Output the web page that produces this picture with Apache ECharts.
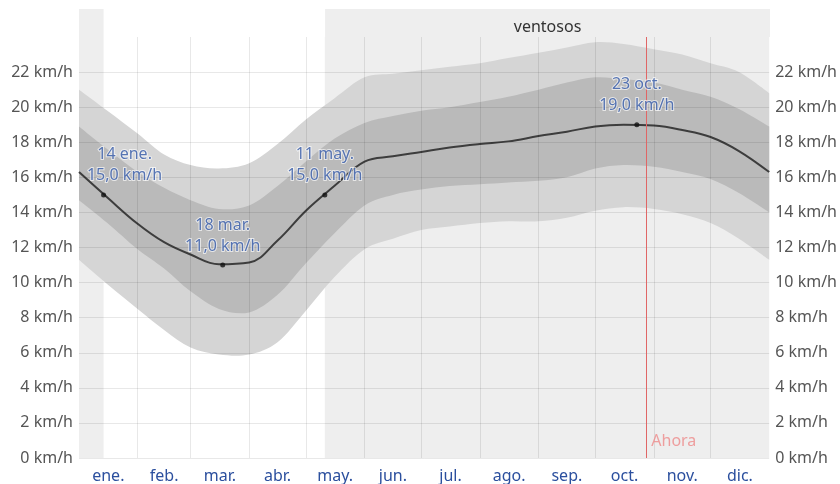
<!DOCTYPE html>
<html>
<head>
<meta charset="utf-8">
<script src="https://cdn.jsdelivr.net/npm/echarts@6/dist/echarts.min.js"></script>
<style>
  html, body { margin: 0; padding: 0; background: #fff; }
  #chart { width: 840px; height: 484px; }
</style>
</head>
<body>
<div id="chart"></div>
<script>
// meses y límites (día del año)
const monthNames = ['ene.', 'feb.', 'mar.', 'abr.', 'may.', 'jun.', 'jul.', 'ago.', 'sep.', 'oct.', 'nov.', 'dic.']
const monthStarts = [0, 31, 59, 90, 120, 151, 181, 212, 243, 273, 304, 334, 365]
const yTicks = [0, 2, 4, 6, 8, 10, 12, 14, 16, 18, 20, 22]

// velocidad del viento (km/h)
const days = [0, 15, 31, 45, 59, 74, 90, 105, 120, 135, 151, 166, 181, 196, 212, 227, 243, 258, 273, 288, 304, 319, 334, 349, 365]
const avgSpeed = [16.3, 14.85, 13.35, 12.3, 11.6, 11.05, 11.15, 12.4, 14.1, 15.5, 16.9, 17.2, 17.45, 17.7, 17.9, 18.05, 18.35, 18.6, 18.9, 19.0, 18.95, 18.7, 18.3, 17.5, 16.3]
const p90 = [21.0, 19.8, 18.5, 17.3, 16.7, 16.5, 16.8, 17.9, 19.3, 20.5, 21.7, 21.9, 22.1, 22.3, 22.5, 22.8, 23.1, 23.4, 23.7, 23.6, 23.3, 23.0, 22.5, 22.0, 20.8]
const p75 = [18.9, 17.6, 16.3, 15.4, 14.7, 14.2, 14.4, 15.5, 16.9, 18.2, 19.1, 19.5, 19.8, 20.0, 20.3, 20.6, 21.0, 21.4, 21.7, 21.6, 21.4, 21.0, 20.6, 19.9, 18.9]
const p25 = [14.7, 13.4, 11.9, 10.8, 9.5, 8.5, 8.3, 9.3, 11.1, 12.8, 14.4, 15.0, 15.3, 15.5, 15.6, 15.7, 15.8, 16.0, 16.5, 16.7, 16.6, 16.3, 15.9, 15.1, 14.0]
const p10 = [11.3, 9.9, 8.5, 7.3, 6.3, 5.9, 5.9, 6.6, 8.4, 10.3, 11.9, 12.5, 13.0, 13.2, 13.4, 13.5, 13.5, 13.7, 14.1, 14.3, 14.2, 13.9, 13.4, 12.5, 11.3]

// puntos destacados
const keyDays = [13, 76, 130, 295]
const keyValues = [15.0, 11.0, 15.0, 19.0]
const keyLabels = ['14 ene.', '18 mar.', '11 may.', '23 oct.']

// temporada ventosa y hoy
const windySpans = [[0, 13], [130, 365]]
const windyLabel = 'ventosos'
const nowDay = 300

const monthMids = monthNames.map((m, i) => (monthStarts[i] + monthStarts[i + 1]) / 2)
const fmt = v => v.toFixed(1).replace('.', ',')
const pairs = arr => days.map((d, i) => [d, arr[i]])

const gridColor = 'rgba(0, 0, 0, 0.09)'
const font = 'Noto Sans'

// curva suave (catmull-rom) a través de los puntos ya convertidos a píxeles
const curveTo = pts => {
  let d = ''
  for (let i = 0; i < pts.length - 1; i++) {
    const p0 = pts[Math.max(i - 1, 0)]
    const p1 = pts[i]
    const p2 = pts[i + 1]
    const p3 = pts[Math.min(i + 2, pts.length - 1)]
    const c1 = [p1[0] + (p2[0] - p0[0]) / 6, p1[1] + (p2[1] - p0[1]) / 6]
    const c2 = [p2[0] - (p3[0] - p1[0]) / 6, p2[1] - (p3[1] - p1[1]) / 6]
    d += ' C' + c1.join(' ') + ' ' + c2.join(' ') + ' ' + p2.join(' ')
  }
  return d
}

const bandSeries = (lo, hi, color, z) => ({
  type: 'custom',
  z: z,
  silent: true,
  clip: true,
  data: days.map((d, i) => [d, lo[i], hi[i]]),
  encode: { x: 0, y: [1, 2] },
  renderItem: (params, api) => {
    if (params.dataIndex !== 0) return
    const top = days.map((d, i) => api.coord([d, hi[i]]))
    const bottom = days.map((d, i) => api.coord([d, lo[i]])).reverse()
    const path = 'M' + top[0].join(' ') + curveTo(top) +
      ' L' + bottom[0].join(' ') + curveTo(bottom) + ' Z'
    return {
      type: 'path',
      shape: { pathData: path },
      style: { fill: color }
    }
  }
})

const chart = echarts.init(document.getElementById('chart'))

const yAxisBase = {
  type: 'value',
  gridIndex: 0,
  min: 0,
  max: 24,
  interval: 2,
  axisLine: { show: false },
  axisTick: { show: false },
  splitLine: { show: false },
  axisLabel: {
    formatter: v => (v > 22 ? '' : v + ' km/h'),
    color: '#555',
    fontSize: 16,
    fontFamily: font,
    margin: 6
  }
}

const option = {
  animation: false,
  textStyle: { fontFamily: font },
  grid: [
    { left: 79, right: 70, top: 37, bottom: 26 },
    { left: 79, right: 70, top: 9, height: 28 }
  ],
  xAxis: [
    {
      type: 'value',
      gridIndex: 0,
      min: 0,
      max: 365,
      axisLine: { show: false },
      axisTick: { show: false },
      splitLine: { show: false },
      axisLabel: {
        customValues: monthMids,
        formatter: v => {
          const i = monthMids.indexOf(v)
          return i >= 0 ? monthNames[i] : ''
        },
        color: '#2b4f9e',
        fontSize: 16,
        fontFamily: font,
        margin: 10
      }
    },
    { type: 'value', gridIndex: 1, min: 0, max: 365, show: false }
  ],
  yAxis: [
    Object.assign({}, yAxisBase, { position: 'left' }),
    Object.assign({}, yAxisBase, { position: 'right' }),
    { type: 'value', gridIndex: 1, min: 0, max: 1, show: false }
  ],
  series: [
    // sombreado de la temporada ventosa (zona principal)
    {
      type: 'line',
      xAxisIndex: 0,
      yAxisIndex: 0,
      data: [],
      z: 1,
      silent: true,
      markArea: {
        silent: true,
        itemStyle: { color: '#eeeeee' },
        data: windySpans.map(s => [{ xAxis: s[0] }, { xAxis: s[1] }])
      }
    },
    // sombreado en la franja superior con el texto
    {
      type: 'line',
      xAxisIndex: 1,
      yAxisIndex: 2,
      data: [],
      z: 1,
      silent: true,
      markArea: {
        silent: true,
        itemStyle: { color: '#eeeeee' },
        label: { show: true, position: 'inside', offset: [0, 4], color: '#333', fontSize: 16, fontFamily: font },
        data: windySpans.map(s => [
          { xAxis: s[0], name: s[1] - s[0] > 100 ? windyLabel : '' },
          { xAxis: s[1] }
        ])
      }
    },
    // bandas 10-90 y 25-75
    bandSeries(p10, p90, '#d5d5d5', 2),
    bandSeries(p25, p75, '#bababa', 3),
    // velocidad media + rejilla encima de las bandas
    {
      type: 'line',
      data: pairs(avgSpeed),
      smooth: 0.4,
      symbol: 'none',
      z: 4,
      lineStyle: { color: '#3d3d3d', width: 2 },
      markLine: {
        silent: true,
        symbol: 'none',
        label: { show: false },
        lineStyle: { color: gridColor, width: 1, type: 'solid' },
        data: [
          ...yTicks.map(v => ({ yAxis: v })),
          ...monthStarts.slice(1, -1).map(d => ({ xAxis: d }))
        ]
      }
    },
    // línea "Ahora"
    {
      type: 'scatter',
      data: [[nowDay, 0]],
      symbolSize: 0,
      z: 5,
      silent: true,
      label: {
        show: true,
        formatter: 'Ahora',
        position: 'right',
        distance: 5,
        offset: [0, -17],
        color: '#ee8a8a',
        fontSize: 16,
        fontFamily: font
      },
      markLine: {
        silent: true,
        symbol: 'none',
        label: { show: false },
        lineStyle: { color: '#e06666', width: 1, type: 'solid' },
        data: [{ xAxis: nowDay }]
      }
    },
    // puntos destacados
    {
      type: 'scatter',
      z: 6,
      symbol: 'circle',
      symbolSize: 5,
      itemStyle: { color: '#111' },
      label: {
        show: true,
        position: 'top',
        distance: 6,
        formatter: p => p.name + '\n' + fmt(p.value[1]) + ' km/h',
        color: '#2f55a4',
        fontSize: 16,
        lineHeight: 21,
        fontFamily: font,
        textBorderColor: 'rgba(255, 255, 255, 0.8)',
        textBorderWidth: 2
      },
      data: keyDays.map((d, i) => ({
        name: keyLabels[i],
        value: [d, keyValues[i]],
        label: i === 0 ? { offset: [21, 0] } : {}
      }))
    }
  ]
}

chart.setOption(option)
</script>
</body>
</html>
